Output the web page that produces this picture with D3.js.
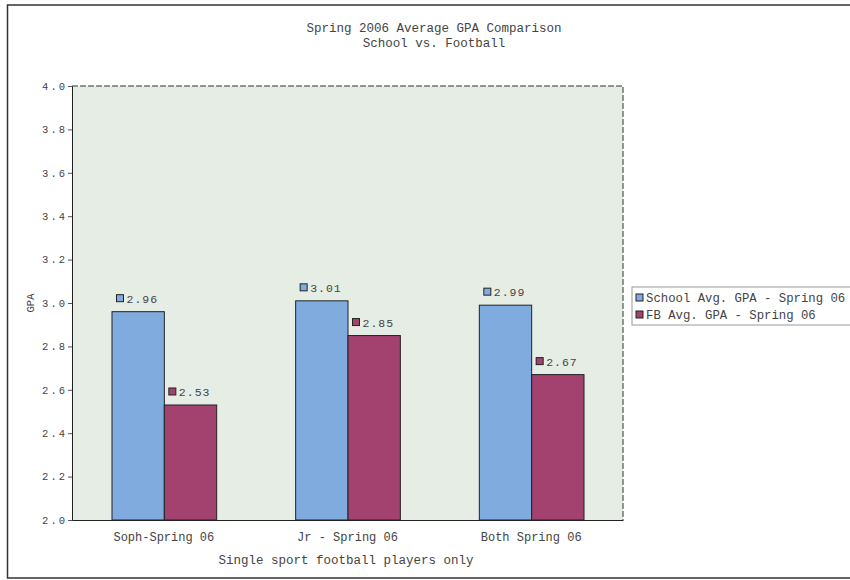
<!DOCTYPE html>
<html>
<head>
<meta charset="utf-8">
<script src="https://cdn.jsdelivr.net/npm/d3@7"></script>
<style>
  body { margin: 0; background: #fff; }
  text { font-family: "Liberation Mono", "DejaVu Sans Mono", monospace; fill: #444; }
</style>
</head>
<body>
<svg id="chart" width="850" height="580"></svg>
<script>
// chart data
const categories = ['Soph-Spring 06', 'Jr - Spring 06', 'Both Spring 06'];
const seriesNames = ['School Avg. GPA - Spring 06', 'FB Avg. GPA - Spring 06'];
const schoolGPA = [2.96, 3.01, 2.99];
const fbGPA = [2.53, 2.85, 2.67];
const yTicks = [2.0, 2.2, 2.4, 2.6, 2.8, 3.0, 3.2, 3.4, 3.6, 3.8, 4.0];

const COLORS = ['#80abdf', '#a3426f'];
const svg = d3.select('#chart');

// outer frame (right side cut off in the original)
svg.append('path')
  .attr('d', 'M850,5 L7.5,5 L7.5,578 L850,578')
  .attr('fill', 'none').attr('stroke', '#333').attr('stroke-width', 1.5);

const m = {left: 72, top: 86, right: 623, bottom: 520};
const x0 = d3.scaleBand().domain(categories).range([m.left, m.right]).paddingInner(0.43).paddingOuter(0.215);
const x1 = d3.scaleBand().domain([0, 1]).range([0, x0.bandwidth()]);
const y = d3.scaleLinear().domain([2, 4]).range([m.bottom, m.top]);

// plot background
svg.append('rect')
  .attr('x', m.left).attr('y', m.top)
  .attr('width', m.right - m.left).attr('height', m.bottom - m.top)
  .attr('fill', '#e6ede5');

// bars
const rows = categories.map((c, i) => ({cat: c, vals: [schoolGPA[i], fbGPA[i]]}));
const grp = svg.selectAll('g.grp').data(rows).enter().append('g')
  .attr('class', 'grp')
  .attr('transform', d => `translate(${x0(d.cat)},0)`);

grp.selectAll('rect').data(d => d.vals.map((v, k) => ({v, k}))).enter().append('rect')
  .attr('x', d => x1(d.k) + 0.5)
  .attr('y', d => y(d.v))
  .attr('width', x1.bandwidth())
  .attr('height', d => y(2) - y(d.v))
  .attr('fill', d => COLORS[d.k])
  .attr('stroke', '#222').attr('stroke-width', 1);

// value labels with little square markers
const lab = grp.selectAll('g.lab').data(d => d.vals.map((v, k) => ({v, k}))).enter().append('g')
  .attr('class', 'lab')
  .attr('transform', d => `translate(${x1(d.k) + 5},${y(d.v) - 13})`);
lab.append('rect')
  .attr('x', 0).attr('y', -4).attr('width', 7).attr('height', 7)
  .attr('fill', d => COLORS[d.k]).attr('stroke', '#222');
lab.append('text')
  .attr('x', 10).attr('y', 4)
  .attr('font-size', 11.5).attr('letter-spacing', 1)
  .text(d => d.v.toFixed(2));

// y axis
const yAxis = svg.append('g').attr('transform', `translate(${m.left},0)`)
  .call(d3.axisLeft(y).tickValues(yTicks).tickFormat(d3.format('.1f')).tickSize(4));
yAxis.select('.domain').attr('stroke', '#222');
yAxis.selectAll('.tick line').attr('stroke', '#555');
yAxis.selectAll('.tick text')
  .attr('font-size', 10.5).attr('letter-spacing', 2).attr('fill', '#555').attr('x', -5)
  .attr('font-family', '"Liberation Mono", monospace');

// x axis
const xAxis = svg.append('g').attr('transform', `translate(0,${m.bottom})`)
  .call(d3.axisBottom(x0).tickSize(0).tickPadding(12));
xAxis.select('.domain').attr('stroke', '#222');
xAxis.selectAll('.tick text')
  .attr('font-size', 12).attr('fill', '#444')
  .attr('font-family', '"Liberation Mono", monospace');

// dashed top and right borders of the plot
svg.append('path')
  .attr('d', `M${m.left},${m.top} L${m.right},${m.top} L${m.right},${m.bottom}`)
  .attr('fill', 'none').attr('stroke', '#333').attr('stroke-dasharray', '6,2');

// titles
svg.append('text').attr('x', 434).attr('y', 32).attr('text-anchor', 'middle')
  .attr('font-size', 12.5).text('Spring 2006 Average GPA Comparison');
svg.append('text').attr('x', 434).attr('y', 47).attr('text-anchor', 'middle')
  .attr('font-size', 12.5).text('School vs. Football');
svg.append('text').attr('x', 346).attr('y', 564).attr('text-anchor', 'middle')
  .attr('font-size', 12.5).text('Single sport football players only');
svg.append('text')
  .attr('transform', 'translate(34,303) rotate(-90)')
  .attr('text-anchor', 'middle')
  .attr('font-family', '"DejaVu Sans", sans-serif')
  .attr('font-size', 10.5).text('GPA');

// legend
const lg = svg.append('g').attr('transform', 'translate(632,287)');
lg.append('rect').attr('x', 0).attr('y', 0).attr('width', 225).attr('height', 38)
  .attr('fill', '#fff').attr('stroke', '#999');
seriesNames.forEach((s, i) => {
  const row = lg.append('g').attr('transform', `translate(4,${11 + i * 17})`);
  row.append('rect').attr('x', 0).attr('y', -4).attr('width', 7).attr('height', 7)
    .attr('fill', COLORS[i]).attr('stroke', '#222');
  row.append('text').attr('x', 10).attr('y', 4).attr('font-size', 12.3).text(s);
});
</script>
</body>
</html>
